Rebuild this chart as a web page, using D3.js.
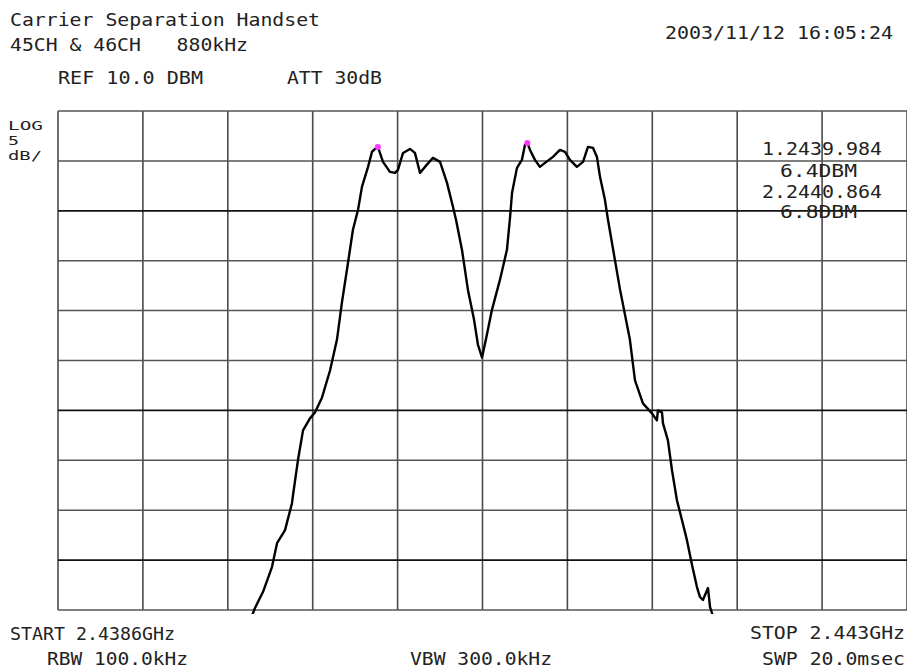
<!DOCTYPE html>
<html>
<head>
<meta charset="utf-8">
<script src="https://cdn.jsdelivr.net/npm/d3@7"></script>
<style>
  body { margin: 0; background: #fff; }
  text { font-family: "DejaVu Sans Mono", monospace; fill: #222; white-space: pre; }
</style>
</head>
<body>
<svg id="chart" width="907" height="670"></svg>
<script>
// trace: frequency (MHz) and level (dBm)
var freq = [2439.242, 2439.260, 2439.307, 2439.360, 2439.390, 2439.437, 2439.478, 2439.484,
  2439.513, 2439.543, 2439.584, 2439.613, 2439.655, 2439.702, 2439.743, 2439.772, 2439.808,
  2439.837, 2439.867, 2439.890, 2439.926, 2439.949, 2439.967, 2439.984, 2440.014, 2440.055,
  2440.085, 2440.102, 2440.132, 2440.173, 2440.202, 2440.232, 2440.261, 2440.308, 2440.350,
  2440.391, 2440.426, 2440.444, 2440.479, 2440.514, 2440.550, 2440.573, 2440.597, 2440.620,
  2440.656, 2440.703, 2440.744, 2440.762, 2440.774, 2440.803, 2440.832, 2440.850, 2440.864,
  2440.880, 2440.909, 2440.938, 2440.968, 2441.015, 2441.056, 2441.086, 2441.115, 2441.156,
  2441.192, 2441.221, 2441.251, 2441.274, 2441.292, 2441.321, 2441.339, 2441.410, 2441.468,
  2441.498, 2441.545, 2441.598, 2441.627, 2441.633, 2441.657, 2441.663, 2441.692, 2441.716,
  2441.745, 2441.775, 2441.804, 2441.834, 2441.863, 2441.881, 2441.898, 2441.928, 2441.940,
  2441.957];
var level = [-40.6, -39.8, -38.2, -35.7, -33.3, -32.0, -29.3, -28.5,
  -25.0, -22.0, -20.8, -20.2, -18.7, -16.0, -12.9, -9.2, -5.2,
  -1.9, 0.1, 2.4, 4.4, 5.9, 6.2, 6.4, 4.9, 3.9,
  3.8, 4.1, 5.8, 6.2, 5.8, 3.8, 4.4, 5.3, 4.9,
  2.8, 0.4, -0.9, -3.9, -7.9, -10.9, -13.4, -14.7, -12.9,
  -9.9, -6.9, -3.9, -0.7, 1.8, 4.3, 5.1, 6.6, 6.8,
  6.1, 5.1, 4.4, 4.8, 5.4, 6.1, 5.9, 5.1, 4.4,
  4.9, 6.4, 6.3, 5.4, 3.4, 1.1, -0.9, -7.9, -12.9,
  -17.0, -19.3, -20.3, -21.0, -20.0, -20.2, -21.3, -23.0, -26.0,
  -29.0, -31.0, -33.0, -35.5, -37.7, -38.7, -39.0, -37.8, -39.7,
  -40.6];

// markers
var markerFreq = [2439.984, 2440.864];
var markerLevel = [6.4, 6.8];
var markerLabels = ["1.2439.984", "6.4DBM", "2.2440.864", "6.8DBM"];

// grid / scale settings
var startFreq = 2438.1, stopFreq = 2443.1, freqDiv = 0.5;
var refLevel = 10, dbDiv = 5, numDiv = 10;
var darkLevels = [0, -20, -35];

var svg = d3.select("#chart");

var x = d3.scaleLinear().domain([startFreq, stopFreq]).range([58, 907]);
var y = d3.scaleLinear().domain([refLevel - dbDiv * numDiv, refLevel]).range([610, 111]);

var xTicks = d3.range(0, numDiv + 1).map(function(i) { return startFreq + i * freqDiv; });
var yTicks = d3.range(0, numDiv + 1).map(function(i) { return refLevel - i * dbDiv; });

// grid
var grid = svg.append("g");
grid.selectAll("line.v").data(xTicks).enter().append("line")
  .attr("x1", function(d) { return x(d); }).attr("x2", function(d) { return x(d); })
  .attr("y1", y(refLevel)).attr("y2", y(refLevel - dbDiv * numDiv))
  .attr("stroke", "#4a4a4a").attr("stroke-width", 1.6);
grid.selectAll("line.h").data(yTicks).enter().append("line")
  .attr("x1", x(startFreq)).attr("x2", x(stopFreq))
  .attr("y1", function(d) { return y(d); }).attr("y2", function(d) { return y(d); })
  .attr("stroke", function(d) { return darkLevels.indexOf(d) >= 0 ? "#111" : "#555"; })
  .attr("stroke-width", function(d) { return darkLevels.indexOf(d) >= 0 ? 1.8 : 1.5; });

// trace
svg.append("clipPath").attr("id", "clip").append("rect")
  .attr("x", 58).attr("y", 100).attr("width", 849).attr("height", 514);

var pts = freq.map(function(f, i) { return [f, level[i]]; });
var line = d3.line()
  .x(function(d) { return x(d[0]); })
  .y(function(d) { return y(d[1]); });

svg.append("path")
  .datum(pts)
  .attr("clip-path", "url(#clip)")
  .attr("d", line)
  .attr("fill", "none")
  .attr("stroke", "#000")
  .attr("stroke-width", 2.4)
  .attr("stroke-linejoin", "round");

svg.selectAll("circle.mk").data(markerFreq).enter().append("circle")
  .attr("cx", function(d) { return x(d); })
  .attr("cy", function(d, i) { return y(markerLevel[i]); })
  .attr("r", 3)
  .attr("fill", "#ff33ff");

// texts
var labels = [
  { t: "Carrier Separation Handset", x: 10, y: 26, w: 310, s: 18 },
  { t: "45CH & 46CH   880kHz", x: 10, y: 51, w: 238, s: 18 },
  { t: "REF 10.0 DBM", x: 58, y: 84, w: 145, s: 18 },
  { t: "ATT 30dB", x: 287, y: 84, w: 95, s: 18 },
  { t: "2003/11/12 16:05:24", x: 665, y: 39, w: 228, s: 18 },
  { t: "LOG", x: 8, y: 130, w: 35, s: 12.5 },
  { t: "5", x: 8, y: 145, w: 11, s: 12.5 },
  { t: "dB/", x: 8, y: 160, w: 34, s: 12.5 },
  { t: markerLabels[0], x: 762, y: 155, w: 120, s: 18 },
  { t: markerLabels[1], x: 780, y: 177, w: 77, s: 18 },
  { t: markerLabels[2], x: 762, y: 198, w: 120, s: 18 },
  { t: markerLabels[3], x: 780, y: 218, w: 77, s: 18 },
  { t: "START 2.4386GHz", x: 10, y: 640, w: 165, s: 18 },
  { t: "RBW 100.0kHz", x: 47, y: 665, w: 141, s: 18 },
  { t: "VBW 300.0kHz", x: 410, y: 665, w: 142, s: 18 },
  { t: "STOP 2.443GHz", x: 750, y: 639, w: 155, s: 18 },
  { t: "SWP 20.0msec", x: 762, y: 665, w: 143, s: 18 }
];

svg.selectAll("text.lbl").data(labels).enter().append("text")
  .attr("x", function(d) { return d.x; })
  .attr("y", function(d) { return d.y; })
  .attr("textLength", function(d) { return d.w; })
  .attr("lengthAdjust", "spacingAndGlyphs")
  .attr("font-size", function(d) { return d.s + "px"; })
  .text(function(d) { return d.t; });
</script>
</body>
</html>
